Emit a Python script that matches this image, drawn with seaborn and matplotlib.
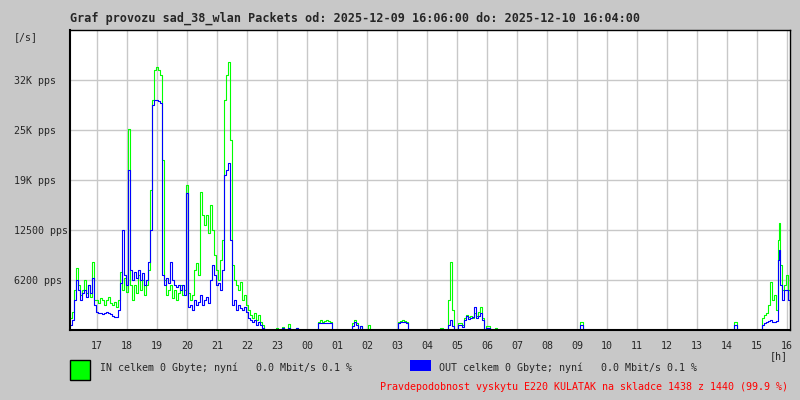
import matplotlib
matplotlib.use("Agg")
import matplotlib.pyplot as plt
import matplotlib.patches as mpatches
import seaborn as sns
import pandas as pd

# ---------------- data (packets per second) ----------------
# time in minutes since 2025-12-09 16:06
minuty_spicka = list(range(0, 392, 4))
in_spicka = [1500, 2250, 5000, 7750, 5625, 4375, 5000, 6250, 4625, 5625,
             4125, 8500, 3750, 3750, 3375, 4000, 3750, 3125, 3750, 4125,
             3375, 3125, 3500, 2875, 3750, 7250, 5000, 6500, 4750, 25125,
             5625, 3750, 5625, 4625, 6875, 5000, 6250, 4375, 5625, 7500,
             17500, 28750, 32500, 32875, 32500, 31875, 21250, 6250, 4375, 5000,
             5625, 4000, 5000, 3750, 4625, 5625, 4375, 5000, 18125, 4625,
             3750, 4375, 7500, 8375, 6875, 17250, 14375, 13125, 14375, 12125,
             15625, 12500, 9375, 7500, 6250, 8750, 11250, 28750, 31875, 33500,
             23750, 8125, 6250, 5625, 5000, 6000, 3750, 4375, 3125, 2500,
             1875, 1500, 2125, 1250, 1875, 1000, 625, 0]
out_spicka = [625, 1250, 3750, 6250, 5000, 3750, 4625, 5000, 4125, 5625,
              4625, 6500, 3125, 2250, 2125, 2125, 2000, 2125, 2250, 2125,
              2000, 1750, 1625, 1625, 2500, 5875, 12500, 6875, 5625, 20000,
              7500, 6250, 7250, 6500, 7500, 6250, 7125, 5625, 6250, 8500,
              12500, 28125, 28750, 28750, 28625, 28375, 6875, 5625, 6500, 5875,
              8500, 6250, 5625, 5375, 5625, 5000, 5625, 4375, 17125, 2875,
              3125, 2500, 3750, 3125, 3500, 4375, 3125, 3750, 4125, 3375,
              6250, 8125, 6875, 5625, 5875, 5000, 7500, 19375, 20000, 20875,
              11250, 3125, 3750, 2500, 3125, 2750, 2500, 2875, 2250, 1500,
              1250, 1000, 1250, 625, 1000, 625, 250, 0]

minuty_klid = [392, 412, 416, 424, 428, 436, 440, 452, 456,
               496, 500, 504, 508, 512, 516, 520, 524,
               564, 568, 572, 576, 580, 584, 596, 600,
               656, 660, 664, 668, 672, 676, 740, 746,
               756, 760, 764, 768, 776, 784, 788, 792, 796, 800, 804, 808,
               812, 816, 820, 824, 828, 832, 840, 850, 854,
               1020, 1026, 1328, 1334,
               1384, 1388, 1392, 1396, 1400, 1404, 1408, 1412, 1416, 1418,
               1420, 1424, 1428, 1432, 1436, 1440]
in_klid = [0, 250, 0, 375, 0, 750, 0, 250, 0,
           1000, 1250, 1000, 1125, 1250, 1125, 1000, 0,
           875, 1250, 875, 0, 500, 0, 625, 0,
           1000, 1125, 1250, 1125, 1000, 0, 250, 0,
           3750, 8500, 2500, 0, 875, 625, 1500, 1875, 1625, 1750, 1500, 2125,
           1750, 2250, 2875, 1500, 0, 500, 0, 250, 0,
           1000, 0, 1000, 0,
           1500, 1875, 2125, 3125, 6000, 3750, 4375, 2500, 11250, 13375,
           8125, 5000, 5625, 6875, 5000, 4375]
out_klid = [0, 125, 0, 250, 0, 250, 0, 250, 0,
            875, 875, 875, 875, 875, 875, 875, 0,
            500, 1000, 625, 0, 500, 0, 125, 0,
            875, 1000, 1000, 1000, 875, 0, 125, 0,
            625, 1250, 500, 0, 625, 375, 1250, 1750, 1375, 1500, 1625, 2875,
            1500, 1750, 2125, 1250, 0, 250, 0, 125, 0,
            625, 0, 625, 0,
            625, 875, 1000, 1125, 1250, 1000, 1000, 1125, 8750, 10000,
            5625, 3750, 5000, 5000, 3750, 3125]

hodiny_popisky = ["17", "18", "19", "20", "21", "22", "23", "00", "01", "02",
                  "03", "04", "05", "06", "07", "08", "09", "10", "11", "12",
                  "13", "14", "15", "16"]
y_hodnoty = [6250, 12500, 18750, 25000, 31250]
y_popisky = ["6200 pps", "12500 pps", "19K pps", "25K pps", "32K pps"]

titulek = "Graf provozu sad_38_wlan Packets od: 2025-12-09 16:06:00 do: 2025-12-10 16:04:00"
legenda_in = "IN celkem 0 Gbyte; nyní   0.0 Mbit/s 0.1 %"
legenda_out = "OUT celkem 0 Gbyte; nyní   0.0 Mbit/s 0.1 %"
poznamka = "Pravdepodobnost vyskytu E220 KULATAK na skladce 1438 z 1440 (99.9 %)"

# ---------------- build frame ----------------
df = pd.DataFrame({
    "min": minuty_spicka + minuty_klid,
    "IN": in_spicka + in_klid,
    "OUT": out_spicka + out_klid,
})
df["hod"] = 0.1 + df["min"] / 60.0  # hours since 16:00

# ---------------- figure ----------------
sns.set_style("white")
BG = "#c8c8c8"
MONO = ["DejaVu Sans Mono"]
plt.rcParams["font.family"] = MONO

W, H = 800, 400
fig = plt.figure(figsize=(8, 4), dpi=100, facecolor=BG)
ax = fig.add_axes([70 / W, 1 - 330 / H, 720 / W, 300 / H])
ax.set_facecolor("white")

sns.lineplot(data=df, x="hod", y="IN", ax=ax, color="#00ff00", linewidth=0.8,
             drawstyle="steps-post", estimator=None, sort=True, zorder=2)
sns.lineplot(data=df, x="hod", y="OUT", ax=ax, color="#0000ff", linewidth=0.8,
             drawstyle="steps-post", estimator=None, sort=True, zorder=2.1)

ax.set_xlim(0.1, 24.1)
ax.set_ylim(0, 37500)
ax.set_xlabel("")
ax.set_ylabel("")

ax.set_xticks(list(range(1, 25)))
ax.set_xticklabels(hodiny_popisky)
ax.set_yticks(y_hodnoty)
ax.set_yticklabels(y_popisky)
for lab in ax.get_yticklabels():
    lab.set_ha("left")
ax.tick_params(axis="y", length=0, pad=40.3, labelsize=7.2)
ax.tick_params(axis="x", length=0, pad=8.0, labelsize=7.2)

ax.grid(True, color="#c8c8c8", linewidth=1.0)
ax.set_axisbelow(True)
for name, s in ax.spines.items():
    s.set_visible(True)
    s.set_color("black")
    s.set_linewidth(1.5 if name in ("bottom", "left") else 1.0)
    s.set_zorder(5)

def fx(px):
    return px / W

def fy(py):
    return 1 - py / H

fig.text(fx(70), fy(18.5), titulek, fontsize=8.45, fontweight="bold",
         ha="left", va="center", family=MONO)
fig.text(fx(14), fy(37), "[/s]", fontsize=7.2, ha="left", va="center", family=MONO)
fig.text(fx(770), fy(356), "[h]", fontsize=7.2, ha="left", va="center", family=MONO)

fig.patches.append(mpatches.Rectangle((fx(70), fy(380)), 20 / W, 20 / H,
                                      transform=fig.transFigure, facecolor="#00ff00",
                                      edgecolor="black", linewidth=1.0))
fig.patches.append(mpatches.Rectangle((fx(410), fy(371)), 21 / W, 11 / H,
                                      transform=fig.transFigure, facecolor="#0000ff",
                                      edgecolor="none"))
fig.text(fx(100), fy(367.5), legenda_in, fontsize=7.2, ha="left", va="center", family=MONO)
fig.text(fx(439), fy(367.5), legenda_out, fontsize=7.2, ha="left", va="center", family=MONO)
fig.text(fx(380), fy(387), poznamka, fontsize=7.2, ha="left", va="center",
         color="#ff0000", family=MONO)

fig.savefig("out.png", dpi=100, facecolor=BG)
